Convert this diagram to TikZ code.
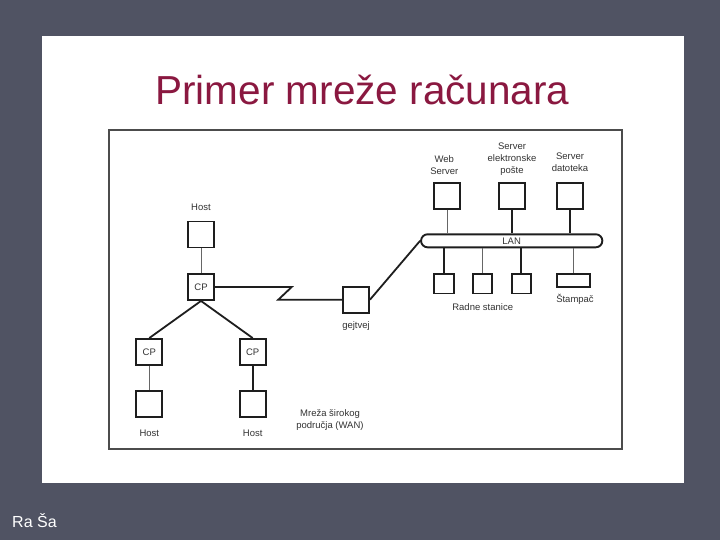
\documentclass[tikz,border=0pt]{standalone}
\usepackage{fontspec}
\setmainfont{Liberation Sans}
\definecolor{slidebg}{HTML}{505363}
\definecolor{titlered}{HTML}{8A1840}
\definecolor{ink}{HTML}{1E1E1E}
\begin{document}
\begin{tikzpicture}[x=1pt,y=-1pt,
  box/.style={draw=ink, line width=1.9pt, minimum width=26pt, minimum height=26pt, inner sep=0pt, font=\fontsize{9.5}{11}\selectfont, text=black!80},
  wsbox/.style={box, minimum width=19.5pt, minimum height=19.5pt},
  lbl/.style={font=\fontsize{9.5}{12}\selectfont, text=black!80, align=center, inner sep=0pt},
  wire/.style={line width=1.8pt, draw=ink},
  thinwire/.style={line width=1pt, draw=black!60}]
\useasboundingbox (0,0) rectangle (720,540);
\fill[slidebg] (0,0) rectangle (720,540);
\fill[white] (42,36) rectangle (684,483);
\node[anchor=base, text=titlered, font=\fontsize{40.5}{44}\selectfont, inner sep=0pt] (title) at (362.5,105) {Primer mreže računara};
\node[anchor=base west, text=white, font=\fontsize{16}{18}\selectfont, inner sep=0pt] (sig) at (12,527) {Ra Ša};
% frame
\draw[line width=1.5pt, draw=black!70] (109,130) rectangle (622,449);
% WAN part
\node[box] (h0) at (201,234.5) {};
\node[box] (cp0) at (201,287) {CP};
\node[box] (cp1) at (149.3,352) {CP};
\node[box] (cp2) at (252.7,352) {CP};
\node[box] (h1) at (149.3,404) {};
\node[box] (h2) at (252.7,404) {};
\node[box] (gw) at (356,299.7) {};
\node[lbl] (lh0) at (201,207.7) {Host};
\node[lbl] (lh1) at (149.3,433.7) {Host};
\node[lbl] (lh2) at (252.7,433.7) {Host};
\node[lbl] (lgw) at (356,325.7) {gejtvej};
\node[lbl] (lwan) at (330,420) {Mreža širokog\\područja (WAN)};
\draw[thinwire] (h0) -- (cp0);
\draw[thinwire] (cp1) -- (h1);
\draw[wire] (cp2) -- (h2);
\draw[wire] (cp0.south) -- (cp1.north);
\draw[wire] (cp0.south) -- (cp2.north);
\coordinate (z1) at (291.7,287);
\coordinate (z2) at (278.3,299.7);
\draw[wire] (cp0.east) -- (z1) -- (z2) -- (gw.west);
% LAN part
\node[draw=ink, line width=1.9pt, rounded corners=6.5pt, minimum width=181.3pt, minimum height=13pt, inner sep=0pt, font=\fontsize{9.5}{11}\selectfont, text=black!80] (lan) at (511.7,240.8) {LAN};
\draw[wire] (gw.east) -- (lan.west);
\node[box] (ws) at (447.3,195.7) {};
\node[box] (es) at (511.7,195.7) {};
\node[box] (fs) at (570.2,195.7) {};
\node[lbl] (lws) at (444.3,165.3) {Web\\Server};
\node[lbl] (les) at (512,159.3) {Server\\elektronske\\pošte};
\node[lbl] (lfs) at (570,162) {Server\\datoteka};
\draw[thinwire] (ws.south) -- (ws.south |- lan.north);
\draw[wire] (es.south) -- (es.south |- lan.north);
\draw[wire] (fs.south) -- (fs.south |- lan.north);
\node[wsbox] (w1) at (444,283.7) {};
\node[wsbox] (w2) at (482.5,283.7) {};
\node[wsbox] (w3) at (521.3,283.7) {};
\node[box, minimum width=32.7pt, minimum height=12.7pt] (pr) at (573.3,280.3) {};
\draw[wire] (w1.north) -- (w1.north |- lan.south);
\draw[thinwire] (w2.north) -- (w2.north |- lan.south);
\draw[wire] (w3.north) -- (w3.north |- lan.south);
\draw[thinwire] (pr.north) -- (pr.north |- lan.south);
\node[lbl] (lws2) at (482.7,307) {Radne stanice};
\node[lbl] (lpr) at (575,299.7) {Štampač};
\end{tikzpicture}
\end{document}
